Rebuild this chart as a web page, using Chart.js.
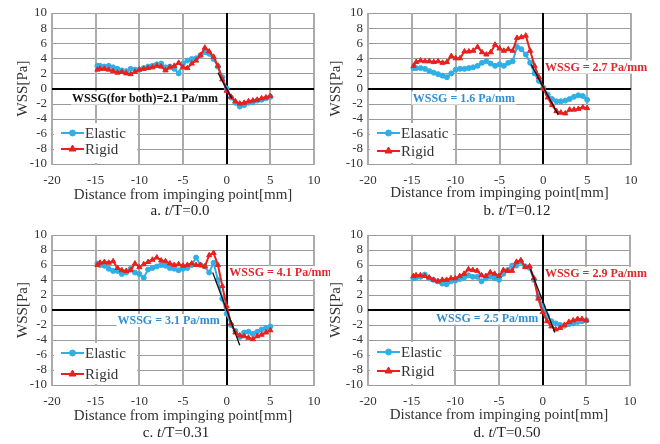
<!DOCTYPE html>
<html><head><meta charset="utf-8">
<script src="https://cdn.jsdelivr.net/npm/chart.js@4/dist/chart.umd.min.js"></script>
<style>
html,body{margin:0;padding:0;background:#fff;width:660px;height:444px;overflow:hidden;position:relative;}
canvas{position:absolute;}
.cap{position:absolute;font-family:'Liberation Serif','Times New Roman',serif;font-size:15px;color:#222;transform:translate(-50%,-50%);white-space:nowrap;}
</style></head><body>
<canvas id="ca" width="330" height="222" style="left:0;top:0"></canvas>
<canvas id="cb" width="338" height="222" style="left:322px;top:0"></canvas>
<canvas id="cc" width="330" height="222" style="left:0;top:222px"></canvas>
<canvas id="cd" width="338" height="222" style="left:322px;top:222px"></canvas>
<div class="cap" style="left:180px;top:210px">a. <i>t</i>/T=0.0</div>
<div class="cap" style="left:517px;top:210px">b. <i>t</i>/T=0.12</div>
<div class="cap" style="left:176px;top:432px">c. <i>t</i>/T=0.31</div>
<div class="cap" style="left:507px;top:432px">d. <i>t</i>/T=0.50</div>
<script>
// ---- data ----
const xs = [-14.8,-14.5,-14,-13.5,-13,-12.5,-12,-11.5,-11,-10.5,-10,-9.5,-9,-8.5,-8,-7.5,-7,-6.5,-6,-5.5,-5,-4.5,-4,-3.5,-3,-2.5,-2,-1.5,-1,-0.5,0,0.5,1,1.5,2,2.5,3,3.5,4,4.5,5];

const elasticA = [3.0,3.0,2.9,3.0,2.8,2.6,2.4,2.3,2.6,2.5,2.5,2.7,2.9,3.0,3.2,3.3,2.8,2.9,2.6,2.0,3.3,3.7,3.9,4.0,4.4,4.8,4.6,3.9,2.9,1.5,0.0,-1.2,-1.9,-2.4,-2.2,-1.9,-1.8,-1.6,-1.5,-1.3,-1.1];
const rigidA   = [2.5,2.6,2.6,2.5,2.3,2.1,2.2,2.0,1.9,2.2,2.5,2.6,2.7,2.8,3.0,2.9,2.4,2.8,3.0,3.4,2.8,2.7,3.3,3.7,4.4,5.4,4.9,4.2,3.0,1.2,-0.3,-1.1,-1.7,-2.0,-1.9,-1.7,-1.6,-1.5,-1.3,-1.2,-1.0];

const elasticB = [2.7,2.7,2.7,2.6,2.3,2.1,1.9,1.7,1.5,2.0,2.5,2.6,2.6,2.7,2.8,3.0,3.4,3.6,3.3,3.0,3.2,3.0,3.4,3.6,5.5,5.2,4.5,3.4,2.0,1.0,0.1,-0.8,-1.4,-1.7,-1.7,-1.6,-1.4,-1.1,-0.9,-1.0,-1.5];
const rigidB   = [3.0,3.5,3.7,3.6,3.6,3.5,3.6,3.4,3.5,4.3,4.0,4.0,4.9,4.9,5.0,5.5,4.8,4.5,4.8,5.8,5.3,5.0,5.2,5.0,6.7,6.8,7.0,5.0,3.0,1.5,0.0,-1.2,-2.2,-3.0,-3.2,-3.3,-2.8,-2.8,-2.7,-2.5,-2.6];

const elasticC = [6.2,6.0,5.9,5.5,5.2,5.2,4.8,5.0,5.5,5.0,4.8,4.3,5.4,5.6,5.8,6.0,5.9,5.6,5.5,5.3,5.5,5.6,6.0,7.0,6.0,5.8,5.0,6.3,4.0,1.5,-0.5,-2.0,-2.8,-3.6,-3.0,-2.9,-3.2,-2.9,-2.6,-2.4,-2.2];
const rigidC   = [6.0,6.3,6.4,6.3,6.5,5.6,5.3,5.2,5.3,6.2,5.7,6.1,6.4,6.7,7.0,6.6,6.5,6.2,6.0,6.1,5.9,6.0,6.2,6.0,6.0,5.8,7.3,7.6,6.0,3.2,0.5,-1.8,-3.0,-3.4,-3.5,-3.7,-3.9,-3.5,-3.3,-3.0,-2.7];

const elasticD = [4.2,4.3,4.4,4.7,4.2,4.0,3.8,3.5,3.4,3.8,3.9,4.1,4.3,4.6,4.4,4.4,3.8,4.2,4.4,4.2,4.0,4.8,5.3,5.9,5.9,6.4,5.8,5.6,4.0,1.8,0.5,-0.8,-1.5,-1.8,-2.0,-2.1,-1.9,-1.8,-1.6,-1.5,-1.4];
const rigidD   = [4.5,4.6,4.6,4.5,4.3,4.0,3.8,4.0,4.0,4.2,4.2,4.5,4.8,5.4,5.3,5.2,4.6,4.5,5.0,4.8,4.5,5.3,5.2,5.2,6.4,6.6,5.7,5.8,4.2,1.5,-0.3,-1.5,-2.2,-2.6,-2.4,-2.0,-1.6,-1.4,-1.2,-1.2,-1.4];

// gradient (fit) lines near the impinging point
const fitAx = [-1.0, 0.6],  fitAy = [2.1, -1.3];
const fitBx = [-1.4, 1.7],  fitBy = [3.2, -3.5];
const fitCx = [-1.6, 1.5],  fitCy = [5.0, -4.7];
const fitDx = [-1.4, 1.4],  fitDy = [5.4, -3.0];

const xTicks = [-20,-15,-10,-5,0,5,10];
const yTicks = [-10,-8,-6,-4,-2,0,2,4,6,8,10];
const xTitle = 'Distance from impinging point[mm]';
const yTitle = 'WSS[Pa]';
const legendA = ['Elastic','Rigid'];
const legendB = ['Elasatic','Rigid'];

// ---- styling ----
const FONT = "'Liberation Serif','Times New Roman',serif";
const BLUE = '#2eb0e6', RED = '#e8211f';
const TXT_BLUE = '#2f8fd2', TXT_RED = '#e2262b';
const GRID = '#9a9a9a', GRID_V = '#ababab';

function pts(x, y){ return x.map((v,i)=>({x:v, y:y[i]})); }

// grid drawn from the library's own scale ticks
const gridPlugin = {
  id:'gridLines',
  beforeDatasetsDraw(chart){
    const {ctx, chartArea:ca, scales:{x, y}} = chart;
    ctx.save();
    ctx.fillStyle = GRID;
    yTicks.forEach(v=>{ if (v !== 0){ const py = Math.round(y.getPixelForValue(v)); ctx.fillRect(ca.left, py, ca.right-ca.left+1, 1); } });
    ctx.fillStyle = GRID_V;
    xTicks.forEach(v=>{ if (v !== 0){ const px = Math.round(x.getPixelForValue(v)); ctx.fillRect(px-1, ca.top, 2, ca.bottom-ca.top+1); } });
    ctx.fillStyle = '#000';
    const x0 = Math.round(x.getPixelForValue(0)), y0 = Math.round(y.getPixelForValue(0));
    ctx.fillRect(x0-1, ca.top, 2, ca.bottom-ca.top);
    ctx.fillRect(ca.left, y0-1, ca.right-ca.left, 2);
    ctx.restore();
  }
};

const decor = {
  id:'decor',
  afterDatasetsDraw(chart, args, o){
    const {ctx, chartArea:ca, scales} = chart;
    ctx.save();
    // legend box
    ctx.fillStyle = '#fff';
    ctx.fillRect(ca.left+2, o.legRows[0]-10, 83, ca.bottom - (o.legRows[0]-10) - 1);
    const items = [{c:BLUE, s:'circle', r:3}, {c:RED, s:'triangle', r:4}];
    items.forEach((it,i)=>{
      const y = o.legRows[i];
      ctx.strokeStyle = it.c; ctx.lineWidth = 2;
      ctx.beginPath(); ctx.moveTo(ca.left+9, y); ctx.lineTo(ca.left+32, y); ctx.stroke();
      ctx.fillStyle = it.c; ctx.strokeStyle = it.c; ctx.lineWidth = 1;
      Chart.helpers.drawPoint(ctx, {pointStyle:it.s, radius:it.r, rotation:0, borderWidth:1}, ca.left+20.5, y);
      ctx.fillStyle = '#333';
      ctx.font = '15px ' + FONT;
      ctx.textBaseline = 'middle'; ctx.textAlign = 'left';
      ctx.fillText(o.names[i], ca.left+33, y+1);
    });
    // annotations
    ctx.font = 'bold 12px ' + FONT;
    o.notes.forEach(n=>{
      const x = scales.x.getPixelForValue(n.x), y = scales.y.getPixelForValue(n.y);
      const w = ctx.measureText(n.t).width;
      ctx.fillStyle = '#fff';
      ctx.fillRect(x-1, y-6, w+2, 13);
      ctx.fillStyle = n.c;
      ctx.textBaseline = 'middle'; ctx.textAlign = 'left';
      ctx.fillText(n.t, x, y+1);
    });
    ctx.restore();
  }
};

function make(id, el, ri, fx, fy, names, notes, p){
  return new Chart(document.getElementById(id), {
    type:'line',
    data:{datasets:[
      {data:pts(fx,fy), borderColor:'#111', borderWidth:1.3, pointRadius:0, fill:false},
      {data:pts(xs,ri), borderColor:RED, backgroundColor:RED, borderWidth:2, pointStyle:'triangle', pointRadius:3, pointBorderWidth:1, fill:false},
      {data:pts(xs,el), borderColor:BLUE, backgroundColor:BLUE, borderWidth:2, pointStyle:'circle', pointRadius:2.5, pointBorderWidth:1, fill:false}
    ]},
    options:{
      responsive:false, animation:false, parsing:false,
      layout:{padding:{left:p.padL, right:p.padR, top:p.padT, bottom:p.padB}},
      plugins:{legend:{display:false}, tooltip:{enabled:false}, decor:{legRows:p.legRows, names:names, notes:notes}},
      scales:{
        x:{type:'linear', min:xTicks[0], max:xTicks[xTicks.length-1],
           ticks:{stepSize:xTicks[1]-xTicks[0], padding:9, font:{family:FONT, size:13}, color:'#333', maxRotation:0, autoSkip:false},
           grid:{drawOnChartArea:false, drawTicks:false, display:true, color:'rgba(0,0,0,0)'},
           border:{display:false},
           title:{display:true, text:xTitle, font:{family:FONT, size:15}, color:'#333', padding:0},
           afterFit: s => { s.height = p.xH; }},
        y:{type:'linear', min:yTicks[0], max:yTicks[yTicks.length-1],
           ticks:{stepSize:yTicks[1]-yTicks[0], padding:5, font:{family:FONT, size:13}, color:'#333', autoSkip:false},
           grid:{drawOnChartArea:false, drawTicks:false, display:true, color:'rgba(0,0,0,0)'},
           border:{display:false},
           title:{display:true, text:yTitle, font:{family:FONT, size:15}, color:'#333', padding:0},
           afterFit: s => { s.width = p.yW; }}
      }
    },
    plugins:[gridPlugin, decor]
  });
}

make('ca', elasticA, rigidA, fitAx, fitAy, legendA,
  [{t:'WSSG(for both)=2.1 Pa/mm', x:-17.7, y:-1.2, c:'#111'}],
  {padL:14, padR:16, padT:13, padB:18, yW:38, xH:40, legRows:[133,149]});
make('cb', elasticB, rigidB, fitBx, fitBy, legendB,
  [{t:'WSSG = 2.7 Pa/mm', x:0.2, y:2.9, c:TXT_RED},{t:'WSSG = 1.6 Pa/mm', x:-14.9, y:-1.2, c:TXT_BLUE}],
  {padL:5, padR:29, padT:13, padB:20, yW:41, xH:38, legRows:[133,151]});
make('cc', elasticC, rigidC, fitCx, fitCy, legendA,
  [{t:'WSSG = 4.1 Pa/mm', x:0.3, y:5.05, c:TXT_RED},{t:'WSSG = 3.1 Pa/mm', x:-12.5, y:-1.33, c:TXT_BLUE}],
  {padL:14, padR:16, padT:13, padB:19, yW:38, xH:40, legRows:[131,152]});
make('cd', elasticD, rigidD, fitDx, fitDy, legendA,
  [{t:'WSSG = 2.9 Pa/mm', x:0.26, y:4.92, c:TXT_RED},{t:'WSSG = 2.5 Pa/mm', x:-12.2, y:-1.02, c:TXT_BLUE}],
  {padL:5, padR:30, padT:12, padB:20, yW:41, xH:39, legRows:[130,149]});
</script>
</body></html>
